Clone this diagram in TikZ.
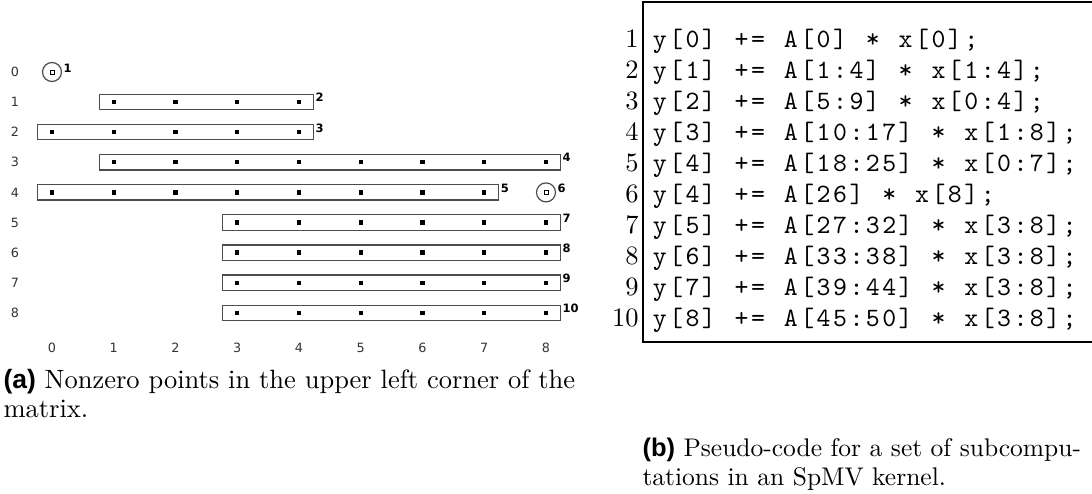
\documentclass[tikz,border=0pt]{standalone}
\usepackage{fontspec}
\newfontfamily\plotfont{DejaVu Sans}
\newfontfamily\subfont{Liberation Sans}
\usetikzlibrary{fit,positioning}

% one fixed listing column per character, ~ gives an empty column
\newcommand\colw{6.56pt}
\def\clstop{\clstop}
\def\codechars#1{\codeloop#1\clstop}
\def\codeloop#1{\ifx#1\clstop\else\makebox[\colw]{\ifx#1~\else#1\fi}\expandafter\codeloop\fi}

\tikzset{
  entry/.style={fill=black, inner sep=0pt, minimum size=1.7pt},
  hollow/.style={draw=black, line width=0.35pt, inner sep=0pt, minimum size=1.6pt},
  rowbox/.style={draw=black!70, line width=0.48pt, inner xsep=4.8pt, inner ysep=2pt},
  single/.style={draw=black!70, line width=0.48pt, circle, inner sep=0pt, minimum size=7.6pt},
  tag/.style={font=\plotfont\bfseries\fontsize{4.6}{5}\selectfont, inner sep=0.4pt},
  axislabel/.style={font=\plotfont\fontsize{5.1}{6}\selectfont, text=black!80, inner sep=0pt},
  lineno/.style={anchor=base east, inner sep=0pt, font=\fontsize{10.6}{12}\selectfont},
  codeline/.style={anchor=base west, inner sep=0pt, font=\ttfamily\fontsize{10.6}{12}\selectfont},
  caption/.style={anchor=base west, inner sep=0pt, font=\fontsize{10.6}{12.7}\selectfont},
  frame/.style={line width=0.5pt},
}

\begin{document}
\begin{tikzpicture}[x=0.4pt, y=-0.4pt]
\useasboundingbox (0,0) rectangle (1092,493);

% axis labels
\foreach \r in {0,...,8}
  \node[axislabel] (row\r) at (15, {72+30.1*\r}) {\r};
\foreach \c in {0,...,8}
  \node[axislabel] (col\c) at ({52+61.75*\c}, 348) {\c};

% nonzeros grouped per row
\foreach \r/\a/\b/\t in {1/1/4/2, 2/0/4/3, 3/1/8/4, 4/0/7/5, 5/3/8/7, 6/3/8/8, 7/3/8/9, 8/3/8/10}{
  \foreach \c in {\a,...,\b}
    \node[entry] (e-\r-\c) at ({52+61.75*\c}, {72+30.1*\r}) {};
  \node[rowbox, fit=(e-\r-\a)(e-\r-\b)] (box\r) {};
  \node[tag, anchor=north west] (tag\r) at ([yshift=0.8pt]box\r.north east) {\t};
}

% single nonzeros
\foreach \r/\c/\t in {0/0/1, 4/8/6}{
  \node[single] (s-\r-\c) at ({52+61.75*\c}, {72+30.1*\r}) {};
  \node[hollow] (h-\r-\c) at (s-\r-\c) {};
  \node[tag, anchor=west] (stag\t) at ([yshift=1.6pt]s-\r-\c.east) {\t};
}

\node[caption] (capa1) at (3,388) {{\subfont\bfseries (a)} Nonzero points in the upper left corner of the};
\node[caption] (capa2) at (3,417) {matrix.};

% listing
\coordinate (ftop) at (643,2);
\coordinate (fbot) at (643,342);
\draw[frame] (1100,2) -- (ftop) -- (fbot) -- (1100,342);

\foreach \n/\code in {1/{y[0]~+=~A[0]~*~x[0];},
    2/{y[1]~+=~A[1:4]~*~x[1:4];},
    3/{y[2]~+=~A[5:9]~*~x[0:4];},
    4/{y[3]~+=~A[10:17]~*~x[1:8];},
    5/{y[4]~+=~A[18:25]~*~x[0:7];},
    6/{y[4]~+=~A[26]~*~x[8];},
    7/{y[5]~+=~A[27:32]~*~x[3:8];},
    8/{y[6]~+=~A[33:38]~*~x[3:8];},
    9/{y[7]~+=~A[39:44]~*~x[3:8];},
    10/{y[8]~+=~A[45:50]~*~x[3:8];}}{
  \node[lineno] (n\n) at (639, {16+31*\n}) {\n};
  \node[codeline] (c\n) at (651, {16+31*\n}) {\expandafter\codechars\expandafter{\code}};
}

\node[caption, font=\fontsize{10.2}{12.2}\selectfont] (capb1) at (642,456) {{\subfont\bfseries (b)} Pseudo-code for a set of subcompu-};
\node[caption, font=\fontsize{10.2}{12.2}\selectfont] (capb2) at (642,485) {tations in an SpMV kernel.};
\end{tikzpicture}
\end{document}
